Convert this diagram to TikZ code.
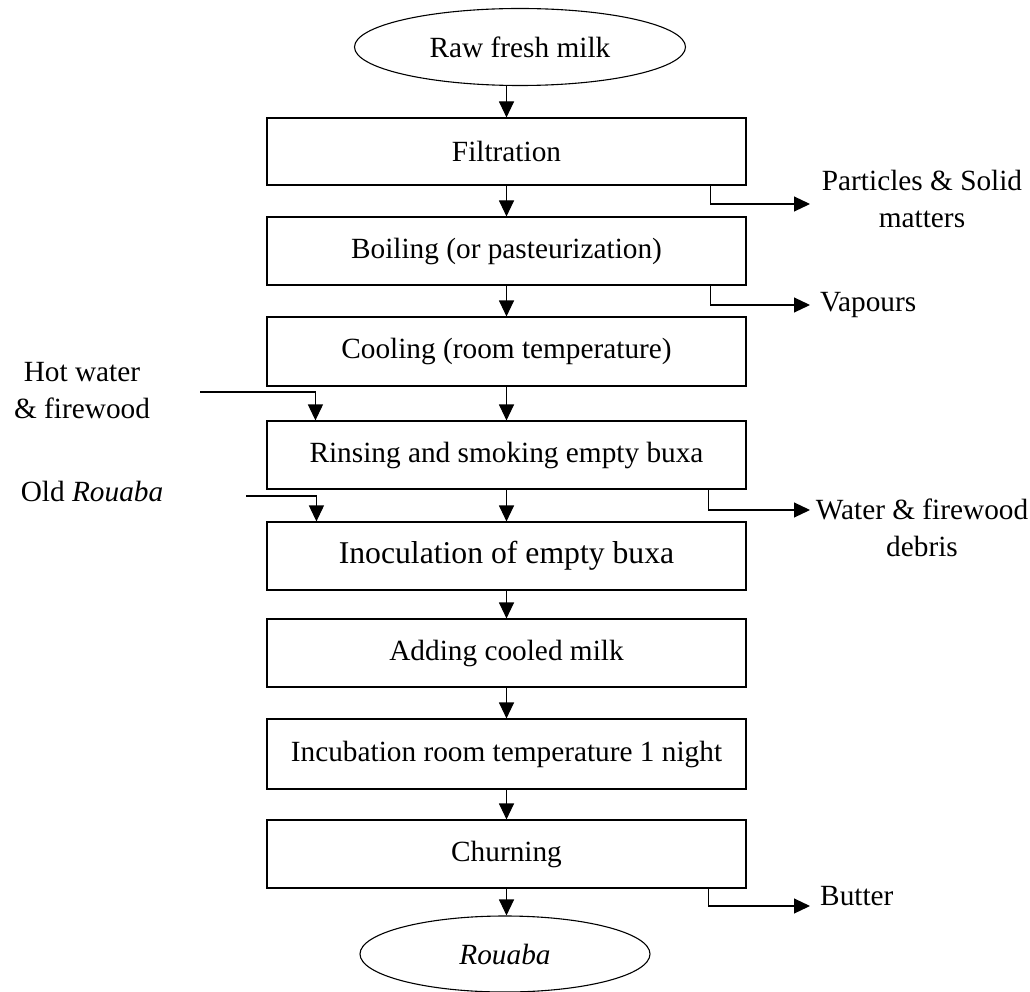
\documentclass[tikz,border=0pt]{standalone}
\usepackage{fontspec}
\setmainfont{Liberation Serif}
\usetikzlibrary{shapes.geometric,arrows.meta}
\begin{document}
\begin{tikzpicture}[x=1pt,y=-1pt,
  every node/.style={font=\fontsize{29.3pt}{37pt}\selectfont},
  stepbox/.style={draw, line width=1.1pt, rectangle, inner sep=0pt, minimum width=479pt, minimum height=68pt},
  termnode/.style={draw, line width=1.1pt, ellipse, inner sep=0pt},
  arr/.style={line width=1.1pt, -{Triangle[length=16pt,width=15pt]}},
  sidelabel/.style={align=center, inner sep=0pt}
]
\useasboundingbox (0,0) rectangle (1030,992);

\node[termnode, minimum width=331pt, minimum height=77pt] (raw) at (520,47) {Raw fresh milk};
\node[stepbox, minimum height=67pt] (filt) at (506.5,151.5) {Filtration};
\node[stepbox] (boil) at (506.5,251) {Boiling (or pasteurization)};
\node[stepbox, minimum height=69pt] (cool) at (506.5,351.5) {Cooling (room temperature)};
\node[stepbox] (rinse) at (506.5,455) {Rinsing and smoking empty buxa};
\node[stepbox, font=\fontsize{31.7pt}{38pt}\selectfont] (inoc) at (506.5,556) {Inoculation of empty buxa};
\node[stepbox] (add) at (506.5,653) {Adding cooled milk};
\node[stepbox, minimum height=70pt] (incub) at (506.5,754) {Incubation room temperature 1 night};
\node[stepbox] (churn) at (506.5,854) {Churning};
\node[termnode, minimum width=290pt, minimum height=76pt] (rouaba) at (505,954) {\itshape Rouaba};

% main flow
\draw[arr] (filt.north |- raw.south) -- (filt.north);
\draw[arr] (filt) -- (boil);
\draw[arr] (boil) -- (cool);
\draw[arr] (cool) -- (rinse);
\draw[arr] (rinse) -- (inoc);
\draw[arr] (inoc) -- (add);
\draw[arr] (add) -- (incub);
\draw[arr] (incub) -- (churn);
\draw[arr] (churn.south) -- (churn.south |- rouaba.north);

% outputs
\coordinate (pend) at (810,204);
\coordinate (vend) at (810,305);
\coordinate (wend) at (810,510);
\coordinate (bend) at (810,906);
\draw[arr] ([xshift=-36pt]filt.south east) |- (pend);
\draw[arr] ([xshift=-36pt]boil.south east) |- (vend);
\draw[arr] ([xshift=-38pt]rinse.south east) |- (wend);
\draw[arr] ([xshift=-38pt]churn.south east) |- (bend);
\node[sidelabel] (parts) at (922,198.5) {Particles \& Solid\\matters};
\node[sidelabel, anchor=west] (vap) at (820,305) {Vapours};
\node[sidelabel] (water) at (922,528) {Water \& firewood\\debris};
\node[sidelabel, anchor=west] (butter) at (820,896) {Butter};

% inputs
\node[sidelabel] (hot) at (82,391) {Hot water\\\& firewood};
\node[sidelabel] (old) at (92,492) {Old \textit{Rouaba}};
\coordinate (hstart) at (200,392);
\coordinate (ostart) at (246,496);
\draw[arr] (hstart) -| ([xshift=49pt]rinse.north west);
\draw[arr] (ostart) -| ([xshift=50pt]inoc.north west);
\end{tikzpicture}
\end{document}
